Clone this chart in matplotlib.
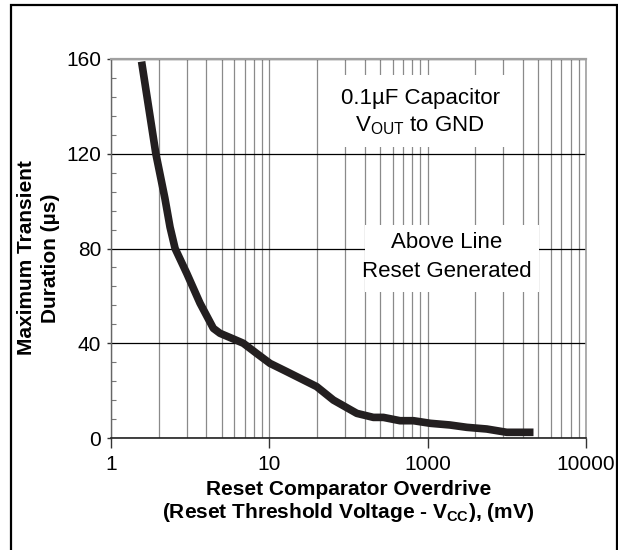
import matplotlib.pyplot as plt
from matplotlib.patches import Rectangle
from matplotlib.ticker import LogLocator, MultipleLocator, NullFormatter

plt.rcParams["font.family"] = ["Liberation Sans", "DejaVu Sans"]
plt.rcParams["mathtext.fontset"] = "custom"
plt.rcParams["mathtext.rm"] = "Liberation Sans"
plt.rcParams["mathtext.bf"] = "Liberation Sans:bold"

#########################################################
########## DATA ##########################################

# overdrive (mV) on the plotted log axis, and max transient duration (us)
overdrive_mv = [1.56, 1.92, 2.19, 2.36, 2.54, 3.01, 3.65, 4.43, 4.88, 5.93,
                6.85, 8.32, 10.1, 12.9, 19.9, 25.4, 35.7, 45.4, 52.5, 66.9,
                81.3, 104, 138, 177, 236, 316, 466]
duration_us = [158.9, 120.0, 101.2, 89.0, 80.0, 69.5, 56.9, 46.3, 44.2, 41.8,
               40.0, 35.7, 31.5, 28.0, 21.7, 16.0, 10.4, 8.7, 8.7, 7.3,
               7.3, 6.2, 5.5, 4.5, 3.8, 2.4, 2.4]

x_ticks = [1, 10, 100, 1000]
x_tick_labels = ["1", "10", "1000", "10000"]
y_ticks = [0, 40, 80, 120, 160]

#########################################################
#########################################################

fig = plt.figure(figsize=(6.18, 5.5), dpi=100)
ax = fig.add_axes([111 / 618, 112 / 550, 475 / 618, 379 / 550])

ax.set_xscale("log")
ax.set_xlim(1, 1000)
ax.set_ylim(0, 160)

ax.set_xticks(x_ticks, labels=x_tick_labels)
ax.xaxis.set_minor_locator(LogLocator(base=10, subs=range(2, 10)))
ax.xaxis.set_minor_formatter(NullFormatter())
ax.set_yticks(y_ticks)
ax.yaxis.set_minor_locator(MultipleLocator(8))

ax.tick_params(axis="x", which="major", direction="out", length=7, width=1,
               color="#333333", labelsize=15, pad=5)
ax.tick_params(axis="x", which="minor", length=0)
ax.tick_params(axis="y", which="major", direction="out", length=3, width=1,
               color="#333333", labelsize=15, pad=4)
ax.tick_params(axis="y", which="minor", direction="in", length=3.5, width=0.8,
               color="#777777")

# grid: gray verticals, black horizontals
ax.set_axisbelow(True)
ax.grid(axis="x", which="both", color="#8a8a8a", lw=0.9)
ax.grid(axis="y", which="major", color="black", lw=0.9)

ax.spines["top"].set_color("#a0a0a0")
ax.spines["top"].set_linewidth(1.6)
ax.spines["right"].set_color("#a0a0a0")
ax.spines["right"].set_linewidth(1.2)
ax.spines["left"].set_color("#666666")
ax.spines["left"].set_linewidth(1.0)
ax.spines["bottom"].set_color("#222222")
ax.spines["bottom"].set_linewidth(1.2)

# the curve
ax.plot(overdrive_mv, duration_us, color="#231f20", lw=5.5,
        solid_capstyle="butt", solid_joinstyle="round", zorder=4)

# white boxes behind the notes
ax.add_patch(Rectangle((0.476, 0.768), 0.368, 0.19, transform=ax.transAxes,
                       facecolor="white", edgecolor="none", zorder=2))
ax.add_patch(Rectangle((0.535, 0.385), 0.366, 0.177, transform=ax.transAxes,
                       facecolor="white", edgecolor="none", zorder=2))

ax.text(0.651, 0.897, "0.1\u00b5F Capacitor", transform=ax.transAxes,
        ha="center", va="center", fontsize=16, zorder=5)
ax.text(0.651, 0.823, r"V$_{\mathrm{OUT}}$ to GND", transform=ax.transAxes,
        ha="center", va="center", fontsize=16, zorder=5)
ax.text(0.707, 0.515, "Above Line", transform=ax.transAxes,
        ha="center", va="center", fontsize=16, zorder=5)
ax.text(0.707, 0.438, "Reset Generated", transform=ax.transAxes,
        ha="center", va="center", fontsize=16, zorder=5)

# axis titles
ax.text(0.5, -0.150, "Reset Comparator Overdrive", transform=ax.transAxes,
        ha="center", va="baseline", fontsize=15, fontweight="bold")
ax.text(0.5, -0.212, r"(Reset Threshold Voltage - V$_{\mathbf{CC}}$), (mV)",
        transform=ax.transAxes, ha="center", va="baseline", fontsize=15,
        fontweight="bold")
fig.text(27 / 618, 1 - 258 / 550, "Maximum Transient", rotation=90,
         ha="center", va="center", fontsize=15, fontweight="bold")
fig.text(50 / 618, 1 - 258 / 550, "Duration (\u00b5s)", rotation=90,
         ha="center", va="center", fontsize=15, fontweight="bold")

# frame round the whole figure
fig.patches.append(Rectangle((11 / 618, -0.05), 606 / 618, 1 - 5 / 550 + 0.05,
                             transform=fig.transFigure, facecolor="none",
                             edgecolor="black", lw=1.6, clip_on=False))

fig.savefig("out.png", dpi=100)
